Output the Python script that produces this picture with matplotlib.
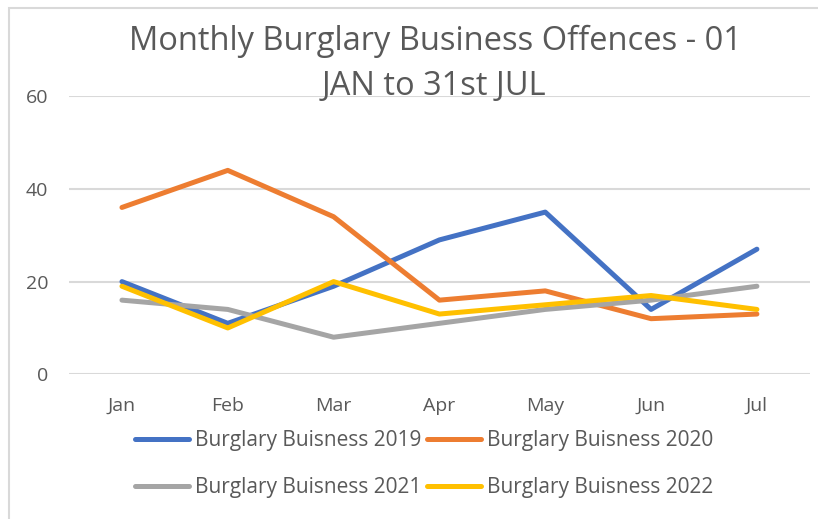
import matplotlib
matplotlib.use("Agg")
import matplotlib.pyplot as plt
from matplotlib.patches import Rectangle

# =====================================================
# DATA
# =====================================================

months = ["Jan", "Feb", "Mar", "Apr", "May", "Jun", "Jul"]
burglary_2019 = [20, 11, 19, 29, 35, 14, 27]
burglary_2020 = [36, 44, 34, 16, 18, 12, 13]
burglary_2021 = [16, 14, 8, 11, 14, 16, 19]
burglary_2022 = [19, 10, 20, 13, 15, 17, 14]

series = [
    ("Burglary Buisness 2019", burglary_2019, "#4472C4"),
    ("Burglary Buisness 2020", burglary_2020, "#ED7D31"),
    ("Burglary Buisness 2021", burglary_2021, "#A5A5A5"),
    ("Burglary Buisness 2022", burglary_2022, "#FFC000"),
]

# =====================================================
# CHART
# =====================================================

plt.rcParams["font.family"] = ["Open Sans", "DejaVu Sans"]
text_color = "#595959"

fig = plt.figure(figsize=(8.18, 5.19), dpi=100)
ax = fig.add_axes([0.0844, 0.2788, 0.9056, 0.5358])

# chart border
fig.patches.append(Rectangle((9 / 818, -0.1), 1.2, 1 - 8 / 519 + 0.1,
                             transform=fig.transFigure, fill=False,
                             edgecolor="#D9D9D9", linewidth=1.5))

x = range(len(months))
lines = []
for label, values, color in series:
    line, = ax.plot(x, values, color=color, linewidth=3.6, label=label,
                    solid_capstyle="round", solid_joinstyle="round")
    lines.append(line)

ax.set_xlim(-0.5, len(months) - 0.5)
ax.set_ylim(0, 60)
ax.set_yticks([0, 20, 40, 60])
ax.set_xticks(list(x))
ax.set_xticklabels(months)
ax.grid(axis="y", color="#D9D9D9", linewidth=1.5)
ax.set_axisbelow(True)
for side in ["top", "right", "left", "bottom"]:
    ax.spines[side].set_visible(False)
ax.tick_params(axis="both", length=0, labelsize=14, colors=text_color)
ax.tick_params(axis="y", pad=15)
ax.tick_params(axis="x", pad=16)

# title, two lines
fig.text(435 / 818, 1 - 50 / 519, "Monthly Burglary Business Offences - 01",
         ha="center", va="baseline", fontsize=23.5, color=text_color)
fig.text(434 / 818, 1 - 95 / 519, "JAN to 31st JUL",
         ha="center", va="baseline", fontsize=23.5, color=text_color)

# legend fills by column, so order handles to read row by row
order = [0, 2, 1, 3]
fig.legend([lines[i] for i in order], [series[i][0] for i in order],
           loc="upper left", bbox_to_anchor=(135 / 818, 1 - 430 / 519),
           ncol=2, frameon=False, fontsize=15, labelcolor=text_color,
           handlelength=2.6, handletextpad=0.29, columnspacing=0.25,
           labelspacing=1.25, borderaxespad=0, borderpad=0)

fig.savefig("out.png", dpi=100)
